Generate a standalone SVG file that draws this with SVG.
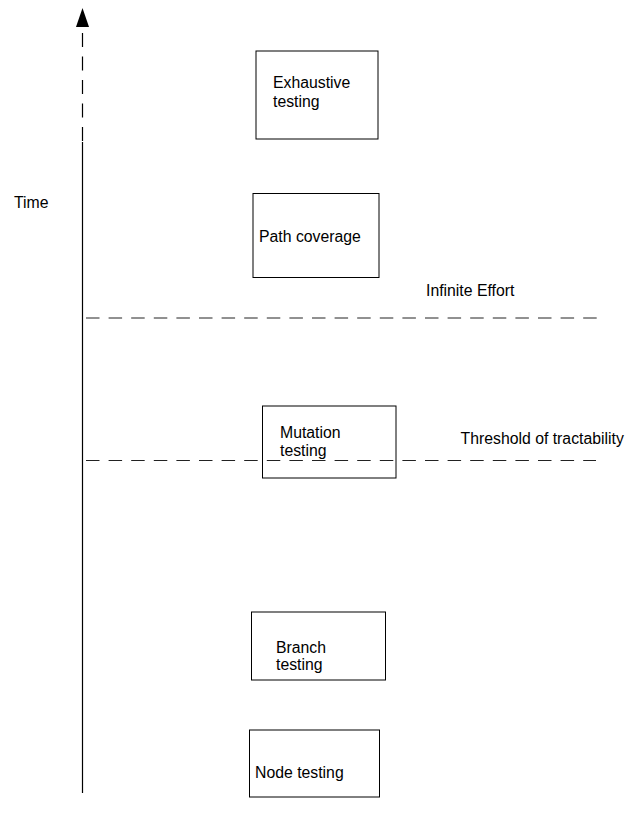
<svg xmlns="http://www.w3.org/2000/svg" width="626" height="822" viewBox="0 0 626 822">
<style>
.box{fill:none;stroke:#000;stroke-width:1}
.lbl{font-family:"Liberation Sans",Arial,sans-serif;font-size:15.8px;fill:#000}
.dash{stroke:#222;stroke-width:1;fill:none;stroke-dasharray:13.5 9.1}
.ax{stroke:#000;stroke-width:1.2;fill:none}
</style>
<rect width="626" height="822" fill="#fff"/>
<g id="connectors">
<polygon points="82.5,8 76,27 89,27" fill="#000"/>
<line class="ax" x1="82.5" y1="33" x2="82.5" y2="142" stroke-dasharray="14 9.5"/>
<line class="ax" x1="82.5" y1="142" x2="82.5" y2="793"/>
<line class="dash" x1="86" y1="318" x2="599" y2="318"/>
<line class="dash" x1="86" y1="460.5" x2="596" y2="460.5"/>
</g>
<g id="time"><text class="lbl" x="14" y="208">Time</text></g>
<g id="infinite"><text class="lbl" x="426" y="296">Infinite Effort</text></g>
<g id="threshold"><text class="lbl" x="460.5" y="443.5">Threshold of tractability</text></g>
<g id="exhaustive">
<rect class="box" x="256" y="51" width="122" height="88"/>
<text class="lbl" x="273" y="87.5">Exhaustive</text>
<text class="lbl" x="273" y="106.5">testing</text>
</g>
<g id="path">
<rect class="box" x="253" y="193.5" width="126" height="84"/>
<text class="lbl" x="259" y="241.5">Path coverage</text>
</g>
<g id="mutation">
<rect class="box" x="262.5" y="406" width="133.5" height="72"/>
<text class="lbl" x="280" y="437.5">Mutation</text>
<text class="lbl" x="280" y="455.5">testing</text>
</g>
<g id="branch">
<rect class="box" x="251.5" y="612" width="134" height="68"/>
<text class="lbl" x="276" y="652.5">Branch</text>
<text class="lbl" x="276" y="670">testing</text>
</g>
<g id="node">
<rect class="box" x="249.5" y="730" width="130" height="67"/>
<text class="lbl" x="255" y="778">Node testing</text>
</g>
</svg>
